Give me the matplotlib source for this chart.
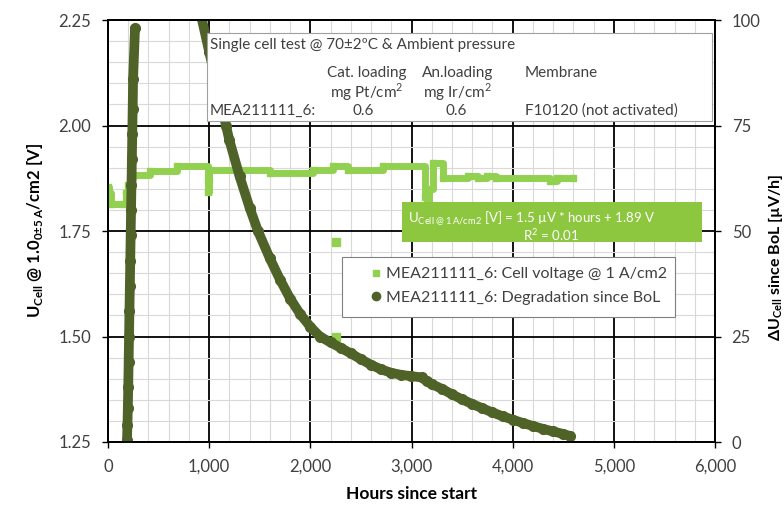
import numpy as np
import matplotlib.pyplot as plt
from matplotlib.patches import Rectangle
from matplotlib.lines import Line2D

plt.rcParams['font.family'] = ['Lato', 'DejaVu Sans']

# cell voltage @ 1 A/cm2 (hours, V), logged as steps
volt_hours = [0, 10, 30, 150, 175, 200, 225, 250, 415, 680, 985, 990, 995, 1000,
              1600, 2025, 2225, 2370, 2720, 3130, 3150, 3170, 3210, 3310, 3560,
              3660, 3750, 3840, 4370, 4440, 4595]
volt_values = [1.855, 1.84, 1.815, 1.815, 1.84, 1.86, 1.875, 1.882, 1.893, 1.903,
               1.87, 1.843, 1.87, 1.894, 1.887, 1.894, 1.903, 1.894, 1.904, 1.83,
               1.80, 1.85, 1.91, 1.875, 1.88, 1.875, 1.88, 1.875, 1.868, 1.875, 1.875]
# single readings away from the trend
stray_hours = [2253, 2253]
stray_values = [1.724, 1.499]

# degradation since BoL [µV/h]; between ~270 h and ~925 h it is above 100
early_hours = [188, 192, 196, 200, 204, 208, 212, 216, 220, 224, 228, 232, 236, 240,
               244, 248, 267]
early_deg = [0.5, 4, 8, 13, 19, 25, 31, 37, 43, 49, 55, 61, 67, 73, 79, 86, 98]
deg_hours = [925, 1000, 1100, 1166, 1200, 1300, 1400, 1482, 1600, 1700, 1800, 1900,
             2000, 2095, 2200, 2300, 2400, 2500, 2600, 2700, 2800, 2900, 3000,
             3100, 3150, 3200, 3300, 3400, 3500, 3600, 3700, 3800, 3900, 4000,
             4100, 4200, 4300, 4400, 4500, 4570]
deg_values = [100.5, 92.5, 82, 75, 71.5, 63, 55.5, 50, 43.5, 38.5, 34, 30.3, 27.3,
              25, 23.6, 22.3, 21, 19.6, 18.3, 17.2, 16.4, 15.9, 15.6, 15.3, 14.4,
              13.7, 12.6, 11.3, 10.1, 9.0, 8.0, 7.0, 6.1, 5.3, 4.5, 3.8, 3.1, 2.5,
              1.9, 1.4]

x_ticks = [0, 1000, 2000, 3000, 4000, 5000, 6000]
volt_ticks = [1.25, 1.50, 1.75, 2.00, 2.25]
deg_ticks = [0, 25, 50, 75, 100]

light = '#92D050'
dark = '#4F6228'
tick_col = '#404040'

W, H = 784, 515


def px(x, y):
    return x / W, 1 - y / H


fig = plt.figure(figsize=(W / 100, H / 100), dpi=100)
ax = fig.add_axes([108 / W, 1 - 442 / H, (715 - 108) / W, (442 - 20) / H])
ax2 = ax.twinx()

# voltage series
ax.plot(volt_hours, volt_values, drawstyle='steps-post', color=light, lw=5,
        marker='s', ms=5, zorder=3)
ax.plot(stray_hours, stray_values, ls='none', color=light, marker='s', ms=5.5, zorder=3)

# degradation series
for hh, vv in [(early_hours, early_deg), (deg_hours, deg_values)]:
    ax2.plot(hh, vv, color=dark, lw=7, marker='o', ms=7, solid_capstyle='round')

ax.set_xlim(0, 6000)
ax.set_ylim(1.25, 2.25)
ax2.set_ylim(0, 100)
ax.set_xticks(x_ticks)
ax.set_xticklabels([f'{v:,}' for v in x_ticks])
ax.set_xticks(np.arange(0, 6001, 200), minor=True)
ax.set_yticks(volt_ticks)
ax.set_yticklabels([f'{v:.2f}' for v in volt_ticks])
ax.set_yticks(np.arange(1.25, 2.2501, 0.05), minor=True)
ax2.set_yticks(deg_ticks)

ax.grid(which='minor', color='#D9D9D9', lw=0.8)
ax.grid(which='major', color='black', lw=1.3)
for a in (ax, ax2):
    a.tick_params(which='major', direction='out', length=4, width=1, colors='black',
                  labelcolor=tick_col, labelsize=12, pad=8)
    a.tick_params(which='minor', length=0)
    for s in a.spines.values():
        s.set_linewidth(1.3)
        s.set_color('black')

ax.set_xlabel('Hours since start', fontsize=12.5, fontweight='bold', labelpad=8)
ax.set_ylabel(r'U$_\mathregular{Cell}$ @ 1.0$_\mathregular{0±5\,A}$/cm2 [V]',
              fontsize=12, fontweight='bold', labelpad=10)
ax2.set_ylabel(r'ΔU$_\mathregular{Cell}$ since BoL [µV/h]', fontsize=11.5,
               fontweight='bold')
ax2.yaxis.set_label_coords(766 / W, 0.5, transform=fig.transFigure)

# test conditions box
fig.add_artist(Rectangle(px(207, 121), (712 - 207) / W, (121 - 33) / H,
                         transform=fig.transFigure, fc='white', ec='#A0A0A0', lw=0.8))
info = dict(fontsize=11, color=tick_col, va='center')
fig.text(*px(210, 45), 'Single cell test @ 70±2ºC & Ambient pressure', ha='left', **info)
fig.text(*px(367, 73), 'Cat. loading', ha='center', **info)
fig.text(*px(458, 73), 'An.loading', ha='center', **info)
fig.text(*px(525, 73), 'Membrane', ha='left', **info)
fig.text(*px(367, 92), 'mg Pt/cm$^\\mathregular{2}$', ha='center', **info)
fig.text(*px(457, 92), 'mg Ir/cm$^\\mathregular{2}$', ha='center', **info)
fig.text(*px(210, 111), 'MEA211111_6:', ha='left', **info)
fig.text(*px(363, 111), '0.6', ha='center', **info)
fig.text(*px(456, 111), '0.6', ha='center', **info)
fig.text(*px(525, 111), 'F10120 (not activated)', ha='left', **info)

# trendline label
fig.add_artist(Rectangle(px(402, 242), (702 - 402) / W, (242 - 202) / H,
                         transform=fig.transFigure, fc='#8DC63F', ec='none'))
fig.text(*px(408, 218),
         r'U$_\mathregular{Cell\:@\:1\:A/cm2}$ [V] = 1.5 µV * hours + 1.89 V',
         fontsize=9.5, color='white', ha='left', va='center')
fig.text(*px(551, 235), r'R$^\mathregular{2}$ = 0.01', fontsize=9.5, color='white',
         ha='center', va='center')

# legend
fig.add_artist(Rectangle(px(342, 317), (675 - 342) / W, (317 - 257) / H,
                         transform=fig.transFigure, fc='white', ec='#808080', lw=0.8))
handles = [Line2D([], [], ls='none', marker='s', ms=5, color=light),
           Line2D([], [], ls='none', marker='o', ms=6, color=dark)]
fig.legend(handles, ['MEA211111_6: Cell voltage @ 1 A/cm2',
                     'MEA211111_6: Degradation since BoL'],
           loc='upper left', bbox_to_anchor=px(370, 267), frameon=False,
           borderpad=0, borderaxespad=0, handlelength=0.7, handletextpad=0.3,
           labelspacing=0.6, fontsize=11.5, labelcolor=tick_col)

fig.savefig('out.png', dpi=100)
